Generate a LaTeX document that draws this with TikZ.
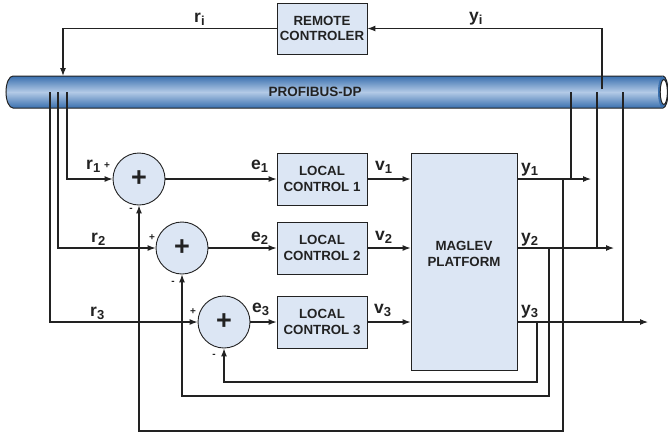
\documentclass[tikz,border=0pt]{standalone}
\usepackage{fontspec}
\setmainfont{Liberation Sans}
\usetikzlibrary{arrows.meta}
\definecolor{boxfill}{HTML}{DCE6F4}
\definecolor{linec}{HTML}{222222}
\definecolor{pipeedge}{HTML}{3A70AF}
\definecolor{pipemid}{HTML}{B3CAE6}
\definecolor{txtc}{HTML}{222222}
\newcommand{\sig}[2]{{\fontsize{17.5}{17.5}\selectfont\bfseries #1}\raisebox{-3.5pt}{\fontsize{13}{13}\selectfont\bfseries #2}}
\begin{document}
\begin{tikzpicture}[x=1pt,y=-1pt,
  block/.style={draw=linec, fill=boxfill, line width=0.9pt, align=center, text=txtc,
    font=\fontsize{13.3}{15.7}\selectfont\bfseries, inner sep=0pt},
  sumnode/.style={circle, draw=linec, fill=boxfill, line width=0.9pt, minimum size=52pt,
    inner sep=0pt, text=txtc, font=\fontsize{27}{27}\selectfont\bfseries},
  wire/.style={draw=linec, line width=1.1pt},
  arr/.style={wire, -{Latex[length=8pt,width=6pt]}},
  sgn/.style={font=\fontsize{10}{10}\selectfont\bfseries, inner sep=0pt, text=txtc},
  lab/.style={anchor=base west, inner sep=0pt, text=txtc}
]
\useasboundingbox (0,0) rectangle (668,437);

% ---- PROFIBUS pipe ----
\shade[top color=pipeedge, bottom color=pipeedge, middle color=pipemid]
  (13,108) arc[start angle=90, end angle=270, x radius=7, y radius=16]
  -- (663,76) -- (663,108) -- cycle;
\draw[linec, line width=1pt] (663,76) -- (13,76)
  arc[start angle=270, end angle=90, x radius=7, y radius=16] -- (663,108);
\fill[pipeedge] (663,92) ellipse[x radius=5, y radius=16];
\draw[linec, line width=1pt, fill=white] (663.8,92) ellipse[x radius=3.6, y radius=12.5];
\draw[linec, line width=1pt] (663,76) arc[start angle=270, end angle=450, x radius=5, y radius=16];
\node[font=\fontsize{13.5}{13.5}\selectfont\bfseries, text=txtc] (bus) at (315,92) {PROFIBUS-DP};

% ---- blocks ----
\node[block, minimum width=90pt, minimum height=51pt] (remote) at (322,28.5) {REMOTE\\CONTROLER};
\node[block, minimum width=90pt, minimum height=52pt] (lc1) at (322,179) {LOCAL\\CONTROL 1};
\node[block, minimum width=90pt, minimum height=52pt] (lc2) at (322,248) {LOCAL\\CONTROL 2};
\node[block, minimum width=90pt, minimum height=52pt] (lc3) at (322,322) {LOCAL\\CONTROL 3};
\node[block, minimum width=106pt, minimum height=217pt] (maglev) at (464,261.5) {};
\node[inner sep=0pt, align=center, text=txtc, font=\fontsize{13.3}{15.5}\selectfont\bfseries] (mtxt) at (464,254) {MAGLEV\\PLATFORM};

\node[sumnode] (s1) at (139,179) {+};
\node[sumnode] (s2) at (182,248) {+};
\node[sumnode] (s3) at (224,322) {+};

% ---- signs ----
\node[sgn] (p1) at (107,166) {+};
\node[sgn] (m1) at (131,210) {-};
\node[sgn] (p2) at (152,238) {+};
\node[sgn] (m2) at (173,283) {-};
\node[sgn] (p3) at (193,312) {+};
\node[sgn] (m3) at (214,356) {-};

% ---- labels ----
\node[lab] (lri) at (194,22) {\sig{r}{i}};
\node[lab] (lyi) at (469,21) {\sig{y}{i}};
\node[lab] (lr1) at (86,169) {\sig{r}{1}};
\node[lab] (lr2) at (91,242) {\sig{r}{2}};
\node[lab] (lr3) at (90,316) {\sig{r}{3}};
\node[lab] (le1) at (251,169) {\sig{e}{1}};
\node[lab] (le2) at (251,241) {\sig{e}{2}};
\node[lab] (le3) at (252,312) {\sig{e}{3}};
\node[lab] (lv1) at (375,170) {\sig{v}{1}};
\node[lab] (lv2) at (375,240) {\sig{v}{2}};
\node[lab] (lv3) at (374,313) {\sig{v}{3}};
\node[lab] (ly1) at (521,172) {\sig{y}{1}};
\node[lab] (ly2) at (521,242) {\sig{y}{2}};
\node[lab] (ly3) at (521,314) {\sig{y}{3}};

% ---- coordinates ----
\coordinate (busri) at (63,76);
\coordinate (busyi) at (602,89);
\coordinate (t1) at (67,92);
\coordinate (t2) at (58,92);
\coordinate (t3) at (50,92);
\coordinate (b1) at (571,92);
\coordinate (b2) at (597,92);
\coordinate (b3) at (623,92);
\coordinate (o1) at (591,179);
\coordinate (o2) at (614,248);
\coordinate (o3) at (648,322);
\coordinate (j1) at (563,179);
\coordinate (j2) at (549,248);
\coordinate (j3) at (537,322);
\coordinate (f1) at (563,431);
\coordinate (f2) at (549,396);
\coordinate (f3) at (537,382);

% ---- remote loop ----
\draw[arr] (remote.west) -| (busri);
\draw[arr] (busyi) |- (remote.east);

% ---- references ----
\draw[arr] (t1) |- (s1.west);
\draw[arr] (t2) |- (s2.west);
\draw[arr] (t3) |- (s3.west);

% ---- forward path ----
\draw[arr] (s1.east) -- (lc1.west);
\draw[arr] (s2.east) -- (lc2.west);
\draw[arr] (s3.east) -- (lc3.west);
\draw[arr] (lc1.east) -- (lc1.east -| maglev.west);
\draw[arr] (lc2.east) -- (lc2.east -| maglev.west);
\draw[arr] (lc3.east) -- (lc3.east -| maglev.west);

% ---- outputs ----
\draw[arr] (o1 -| maglev.east) -- (o1);
\draw[arr] (o2 -| maglev.east) -- (o2);
\draw[arr] (o3 -| maglev.east) -- (o3);
\draw[wire] (b1) -- (b1 |- o1);
\draw[wire] (b2) -- (b2 |- o2);
\draw[wire] (b3) -- (b3 |- o3);

% ---- feedback ----
\draw[arr] (j1) -- (f1) -| (s1.south);
\draw[arr] (j2) -- (f2) -| (s2.south);
\draw[arr] (j3) -- (f3) -| (s3.south);
\end{tikzpicture}
\end{document}
